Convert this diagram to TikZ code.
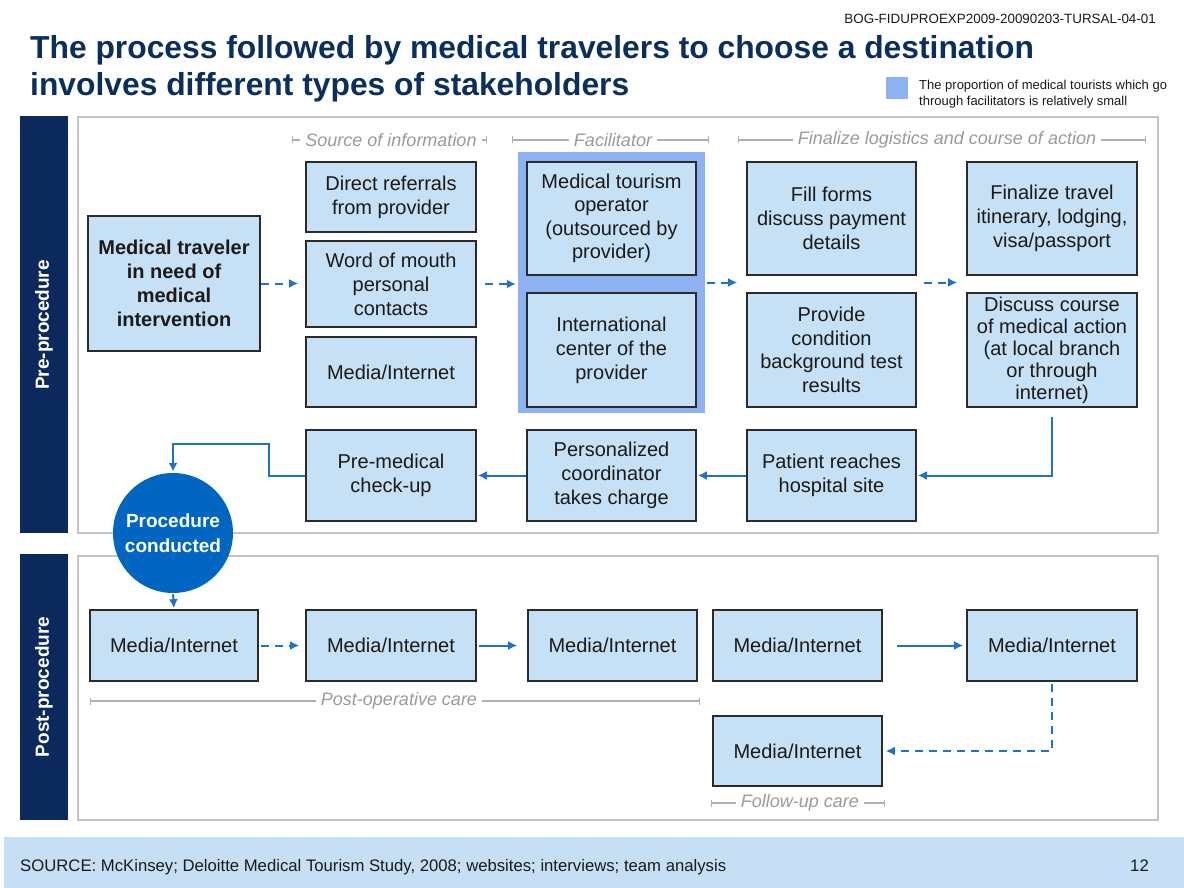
\documentclass[tikz,border=0pt]{standalone}
\usepackage{fontspec}
\setmainfont{Liberation Sans}
\usetikzlibrary{arrows.meta,calc}

\definecolor{navy}{HTML}{0B2A5B}
\definecolor{titlenavy}{HTML}{0A2F5F}
\definecolor{boxfill}{HTML}{C6E0F5}
\definecolor{boxline}{HTML}{2B2B2B}
\definecolor{flowblue}{HTML}{1F72C8}
\definecolor{circblue}{HTML}{0066C2}
\definecolor{facilblue}{HTML}{8EB1F2}
\definecolor{framegray}{HTML}{C4C4C4}
\definecolor{brkgray}{HTML}{B0B0B0}
\definecolor{lblgray}{HTML}{9A9A9A}
\definecolor{footblue}{HTML}{C6DFF5}
\definecolor{textdark}{HTML}{1A1A1A}

\begin{document}
\begin{tikzpicture}[x=1pt,y=-1pt,
  stepbox/.style={draw=boxline, line width=1.7pt, fill=boxfill, align=center,
    inner sep=2pt, text=textdark, font=\fontsize{20}{24}\selectfont},
  colbox/.style={stepbox, minimum width=170pt},
  flow/.style={draw=flowblue, line width=2pt, -{Latex[length=9pt,width=9pt]}},
  flowdash/.style={flow, dash pattern=on 8pt off 6pt},
  phasebar/.style={fill=navy},
  phaseframe/.style={draw=framegray, line width=2pt},
  phaselbl/.style={rotate=90, text=white, font=\bfseries\fontsize{19}{23}\selectfont},
  grouplbl/.style={text=lblgray, font=\itshape\fontsize{18}{22}\selectfont, inner sep=5pt},
  brk/.style={draw=brkgray, line width=1.2pt},
  barend/.style={{Bar[width=7pt]}-},
  endbar/.style={-{Bar[width=7pt]}}
]
\useasboundingbox (0,0) rectangle (1184,888);
\fill[white] (0,0) rectangle (1184,888);

% ---------- heading ----------
\node[anchor=base east, inner sep=0, text=textdark, font=\fontsize{13.4}{16}\selectfont] (docid) at (1156,23.5)
  {BOG-FIDUPROEXP2009-20090203-TURSAL-04-01};
\node[anchor=base west, inner sep=0, text=titlenavy, font=\bfseries\fontsize{31.8}{37}\selectfont] (title1) at (30,59)
  {The process followed by medical travelers to choose a destination};
\node[anchor=base west, inner sep=0, text=titlenavy, font=\bfseries\fontsize{31.8}{37}\selectfont] (title2) at (30,96)
  {involves different types of stakeholders};
\fill[facilblue] (886,77) rectangle (908,99);
\node[anchor=base west, inner sep=0, text=textdark, font=\fontsize{13}{17}\selectfont] (legA) at (919,89.5)
  {The proportion of medical tourists which go};
\node[anchor=base west, inner sep=0, text=textdark, font=\fontsize{13}{17}\selectfont] (legB) at (919,106)
  {through facilitators is relatively small};

% ---------- phase panels ----------
\fill[phasebar] (20,116) rectangle (68,533);
\draw[phaseframe] (78,117) rectangle (1158,533);
\node[phaselbl] (prelbl) at (44,325) {Pre-procedure};

\fill[phasebar] (20,554) rectangle (68,820);
\draw[phaseframe] (78,556) rectangle (1158,820);
\node[phaselbl] (postlbl) at (44,687) {Post-procedure};

% ---------- group headings ----------
\node[grouplbl] (srcl) at (391,140) {Source of information};
\draw[brk,barend] (292,140) -- (srcl.west);
\draw[brk,endbar] (srcl.east) -- (487,140);

\node[grouplbl] (facl) at (613,140) {Facilitator};
\draw[brk,barend] (512,140) -- (facl.west);
\draw[brk,endbar] (facl.east) -- (709,140);

\node[grouplbl] (finl) at (947,140) {Finalize logistics and course of action};
\draw[brk,barend] (738,140) -- (finl.west);
\draw[brk,endbar] (finl.east) -- (1146,140);

% ---------- pre-procedure steps ----------
\node[fill=facilblue, minimum width=187pt, minimum height=261pt, inner sep=0] (facil) at (611.5,282.5) {};

\node[stepbox, font=\bfseries\fontsize{20}{24}\selectfont, minimum width=172pt, minimum height=135pt] (trav) at (174,283.5)
  {Medical traveler\\in need of\\medical\\intervention};

\node[colbox, minimum height=70pt] (dr)  at (391,197) {Direct referrals\\from provider};
\node[colbox, minimum height=86pt] (wom) at (391,284) {Word of mouth\\personal\\contacts};
\node[colbox, minimum height=70pt] (mi1) at (391,372) {Media/Internet};

\node[colbox, minimum width=169pt, minimum height=113pt, font=\fontsize{20}{23.5}\selectfont] (mto) at (611.5,218.5)
  {Medical tourism\\operator\\(outsourced by\\provider)};
\node[colbox, minimum width=169pt, minimum height=114pt] (icp) at (611.5,350)
  {International\\center of the\\provider};

\node[colbox, minimum width=169pt, minimum height=113pt] (ff) at (831.5,218.5)
  {Fill forms\\discuss payment\\details};
\node[colbox, minimum width=169pt, minimum height=114pt, font=\fontsize{20}{23.5}\selectfont] (pc) at (831.5,350)
  {Provide\\condition\\background test\\results};

\node[colbox, minimum height=113pt] (ftr) at (1052,218.5)
  {Finalize travel\\itinerary, lodging,\\visa/passport};
\node[colbox, minimum height=114pt, font=\fontsize{20}{22}\selectfont] (dc) at (1052,350)
  {Discuss course\\of medical action\\(at local branch\\or through\\internet)};

\node[colbox, minimum height=91pt] (pm) at (391,475.5) {Pre-medical\\check-up};
\node[colbox, minimum width=169pt, minimum height=91pt] (pco) at (611.5,475.5) {Personalized\\coordinator\\takes charge};
\node[colbox, minimum width=169pt, minimum height=91pt] (prh) at (831.5,475.5) {Patient reaches\\hospital site};

% pre-procedure connectors
\draw[flowdash, shorten >=7pt] (trav.east) -- (trav.east -| wom.west);
\draw[flowdash, shorten <=8pt, shorten >=2pt] (wom.east) -- (wom.east -| facil.west);
\draw[flowdash, shorten <=2pt, shorten >=9pt] (facil.east) -- (facil.east -| ff.west);
\draw[flowdash, shorten <=7pt, shorten >=9pt] (facil.east -| ff.east) -- (facil.east -| ftr.west);
\draw[flow, shorten <=9pt, shorten >=1pt] (dc.south) |- (prh.east);
\draw[flow, shorten >=1pt] (prh.west) -- (pco.east);
\draw[flow, shorten >=1pt] (pco.west) -- (pm.east);

% ---------- procedure ----------
\node[circle, fill=circblue, minimum size=120pt, inner sep=0, align=center, text=white,
  font=\bfseries\fontsize{19}{25}\selectfont] (proc) at (173,533) {Procedure\\conducted};
\draw[flow, shorten >=1pt] (pm.west) -- ++(-36,0) |- ($(proc.north)+(0,-29)$) -- (proc.north);

% ---------- post-procedure steps ----------
\node[stepbox, minimum width=168pt, minimum height=71pt] (p1) at (174,645.5) {Media/Internet};
\node[colbox, minimum height=71pt] (p2) at (391,645.5) {Media/Internet};
\node[colbox, minimum width=169pt, minimum height=71pt] (p3) at (612.5,645.5) {Media/Internet};
\node[colbox, minimum width=169pt, minimum height=71pt] (p4) at (797.5,645.5) {Media/Internet};
\node[colbox, minimum height=71pt] (p5) at (1052,645.5) {Media/Internet};
\node[colbox, minimum width=169pt, minimum height=70pt] (p6) at (797.5,751) {Media/Internet};

\draw[flow, shorten <=1pt, shorten >=1pt] (proc.south) -- (p1.north);
\draw[flowdash, shorten <=2pt, shorten >=6pt] (p1.east) -- (p2.west);
\draw[flow, shorten <=2pt, shorten >=10pt] (p2.east) -- (p3.west);
\draw[flow, shorten <=14pt, shorten >=3pt] (p4.east) -- (p5.west);
\draw[flowdash, shorten <=2pt, shorten >=3pt] (p5.south) |- (p6.east);

% ---------- care spans ----------
\node[grouplbl] (postop) at (399,701) {Post-operative care};
\draw[brk,barend] (90,701) -- (postop.west);
\draw[brk,endbar] (postop.east) -- (700,701);

\node[grouplbl] (follow) at (800,803) {Follow-up care};
\draw[brk,barend] (711,803) -- (follow.west);
\draw[brk,endbar] (follow.east) -- (885,803);

% ---------- footer ----------
\fill[footblue] (4,837) rectangle (1184,888);
\node[anchor=base west, inner sep=0, text=textdark, font=\fontsize{16.7}{19}\selectfont] (source) at (20,871.5)
  {SOURCE: McKinsey; Deloitte Medical Tourism Study, 2008; websites; interviews; team analysis};
\node[anchor=base east, inner sep=0, text=textdark, font=\fontsize{16.7}{19}\selectfont] (pageno) at (1149,871.5) {12};
\end{tikzpicture}
\end{document}
